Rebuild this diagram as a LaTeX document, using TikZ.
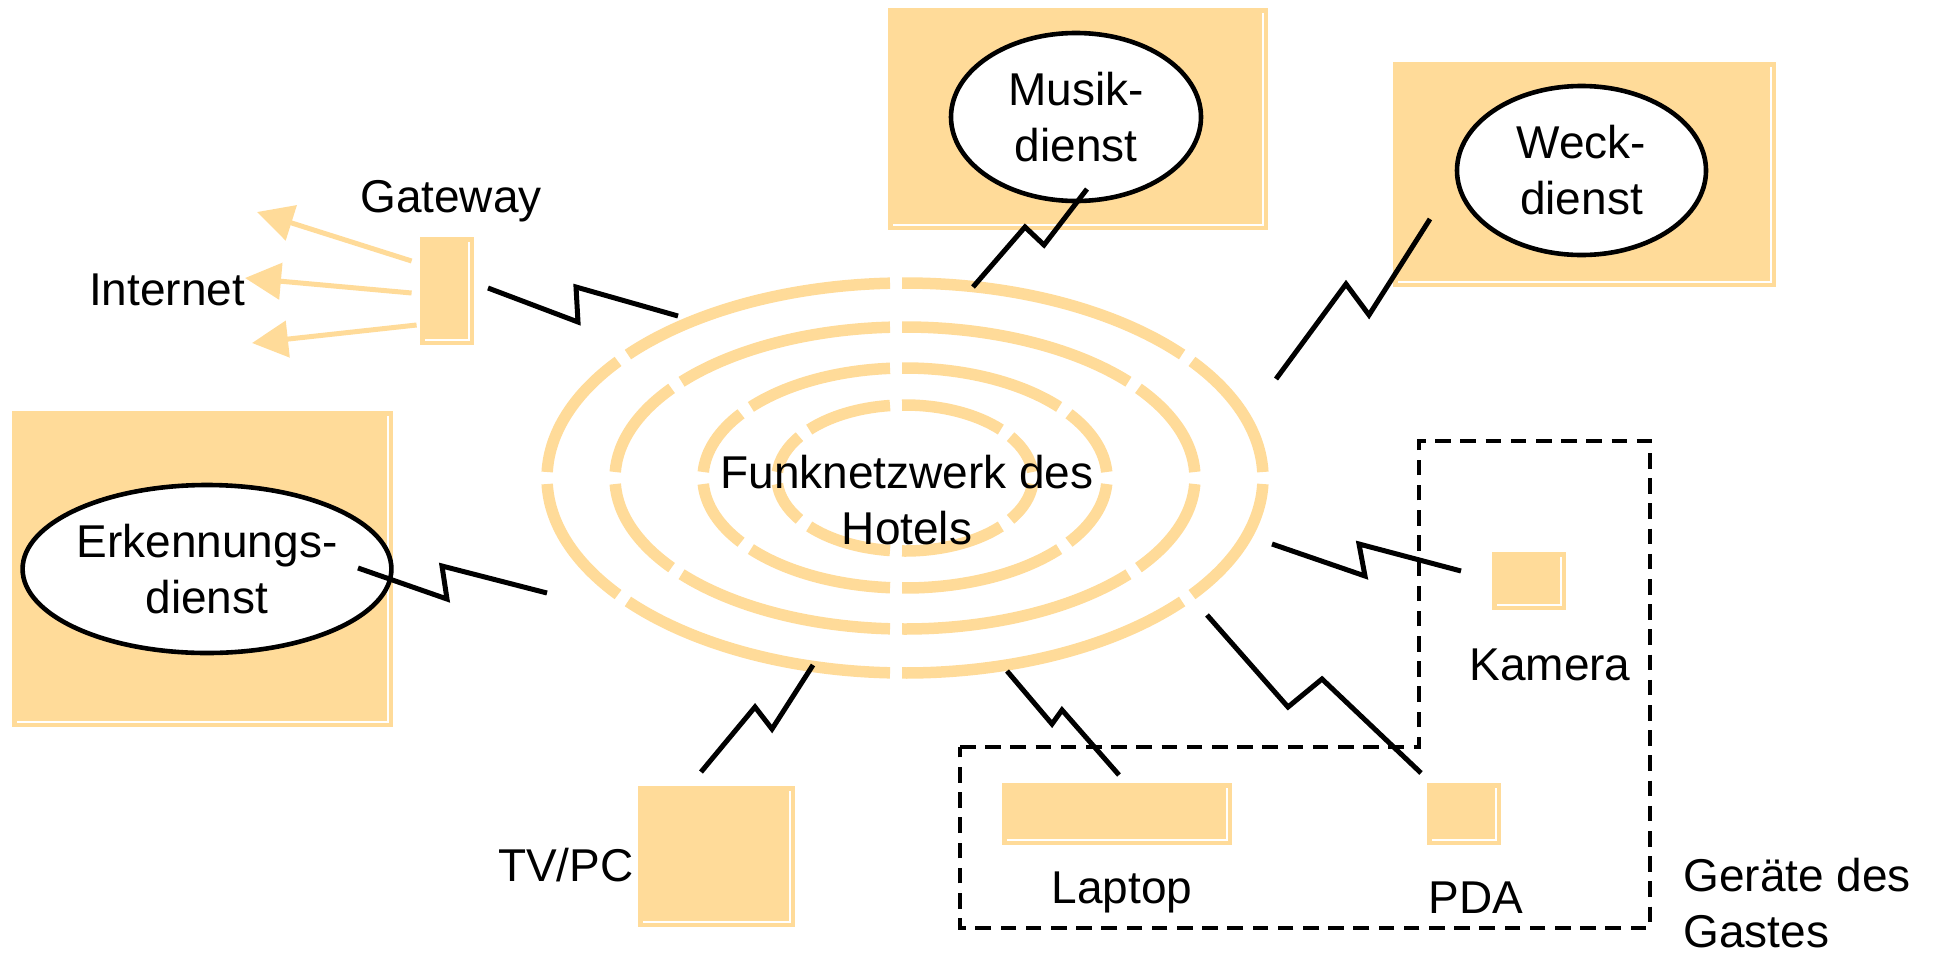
\documentclass[tikz,border=0pt]{standalone}
\usepackage{fontspec}
\setmainfont{Liberation Sans}
\usetikzlibrary{shapes.geometric,arrows.meta}
\definecolor{gold}{RGB}{255,219,153}
\tikzset{
  devbox/.style={rectangle, fill=gold, inner sep=0pt,
    path picture={\draw[white, line width=1pt]
      ([shift={(-5,5)}]path picture bounding box.north east) --
      ([shift={(-5,-5)}]path picture bounding box.south east) --
      ([shift={(5,-5)}]path picture bounding box.south west);}},
  service/.style={ellipse, draw, fill=white, line width=2.3pt, inner sep=0pt, align=center},
  wire/.style={line width=2.5pt},
  ring/.style={gold, line width=5.75pt},
  netarrow/.style={gold, line width=2.5pt, -{Triangle[length=18pt,width=18pt]}},
  guestzone/.style={line width=1.8pt, dash pattern=on 7.8pt off 4.8pt},
}
\begin{document}
\begin{tikzpicture}[x=0.5pt, y=-0.5pt, font=\fontsize{23}{28}\selectfont]
    \useasboundingbox (0,0) rectangle (1937,959);

    % funknetzwerk
    \coordinate (hub) at (905,478);
    \foreach \rx/\ry in {358/195, 290/151, 202/110, 128/73} {
        \pgfmathsetmacro\up{90+asin(9/\rx)}
        \pgfmathsetmacro\dn{270-asin(9/\rx)}
        \foreach \a/\b in {0/38, 38/\up, \up/142, 142/180, 180/218, 218/\dn, \dn/322, 322/360} {
            \pgfmathsetmacro\sa{\a + 344/veclen(\rx*sin(\a),\ry*cos(\a))}
            \pgfmathsetmacro\sb{\b - 344/veclen(\rx*sin(\b),\ry*cos(\b))}
            \draw[ring] (hub) ++(\sa:{\rx} and {\ry}) arc[start angle=\sa, end angle=\sb, x radius=\rx, y radius=\ry];
        }
    }
    \node[align=center] (net) at (907,500) {Funknetzwerk des\\Hotels};

    % dienste
    \node[devbox, minimum width=190pt, minimum height=111pt] (musikbox) at (1078,119) {};
    \node[service, minimum width=125pt, minimum height=84pt] (musik) at (1076,117) {Musik-\\dienst};
    \node[devbox, minimum width=191.5pt, minimum height=112.5pt] (weckbox) at (1584.5,174.5) {};
    \node[service, minimum width=124.5pt, minimum height=84.5pt] (weck) at (1581.5,170.5) {Weck-\\dienst};
    \node[devbox, minimum width=190.5pt, minimum height=158pt] (erkbox) at (202.5,569) {};
    \node[service, minimum width=159pt, minimum height=84pt] (erk) at (207,569) {Erkennungs-\\dienst};

    % gateway
    \node[devbox, minimum width=27pt, minimum height=54pt] (gw) at (447,291) {};
    \node[anchor=base] (gwlabel) at (451,212) {Gateway};
    \node (inet) at (167,290) {Internet};
    \coordinate (inet-a) at (257,212);
    \coordinate (inet-b) at (245,278);
    \coordinate (inet-c) at (252,343);
    \draw[netarrow] ([shift={(-8,-30)}]gw.west) -- (inet-a);
    \draw[netarrow] ([shift={(-8,2)}]gw.west) -- (inet-b);
    \draw[netarrow] ([shift={(-3,34)}]gw.west) -- (inet-c);

    % endgeraete
    \node[devbox, minimum width=78.5pt, minimum height=70.5pt] (tv) at (716.5,856.5) {};
    \node[anchor=east, inner sep=0pt] (tvlabel) at (634,865) {TV/PC};
    \node[devbox, minimum width=37pt, minimum height=29pt] (cam) at (1529,581) {};
    \node (camlabel) at (1550,665) {Kamera};
    \node[devbox, minimum width=115pt, minimum height=31pt] (laptop) at (1117,814) {};
    \node[anchor=base] (laplabel) at (1122,903) {Laptop};
    \node[devbox, minimum width=37pt, minimum height=31pt] (pda) at (1464,814) {};
    \node[anchor=base] (pdalabel) at (1476,913) {PDA};

    % geraete des gastes
    \draw[guestzone] (960,747) -- (1419,747) -- (1419,441) -- (1650,441) -- (1650,928) -- (960,928) -- cycle;
    \node[anchor=west, align=left, inner sep=0pt] (guests) at (1683,903) {Geräte des\\Gastes};

    % funkstrecken
    \coordinate (gw-a) at (488,288);   \coordinate (gw-b) at (678,316);
    \coordinate (musik-a) at (1087,189); \coordinate (musik-b) at (973,287);
    \coordinate (weck-a) at (1430,219); \coordinate (weck-b) at (1276,379);
    \coordinate (erk-a) at (358,568);  \coordinate (erk-b) at (547,593);
    \coordinate (cam-a) at (1272,544); \coordinate (cam-b) at (1461,571);
    \coordinate (lap-a) at (1007,671); \coordinate (lap-b) at (1119,775);
    \coordinate (pda-a) at (1207,615); \coordinate (pda-b) at (1421,773);
    \coordinate (tv-a) at (813,665);   \coordinate (tv-b) at (701,772);
    \draw[wire] (gw-a) -- (578,322) -- (576,287) -- (gw-b);
    \draw[wire] (musik-a) -- (1044,245) -- (1025,227) -- (musik-b);
    \draw[wire] (weck-a) -- (1369,315) -- (1346,284) -- (weck-b);
    \draw[wire] (erk-a) -- (447,599) -- (442,566) -- (erk-b);
    \draw[wire] (cam-a) -- (1365,576) -- (1359,544) -- (cam-b);
    \draw[wire] (lap-a) -- (1052,724) -- (1062,710) -- (lap-b);
    \draw[wire] (pda-a) -- (1288,707) -- (1322,679) -- (pda-b);
    \draw[wire] (tv-a) -- (772,729) -- (755,707) -- (tv-b);
\end{tikzpicture}
\end{document}
